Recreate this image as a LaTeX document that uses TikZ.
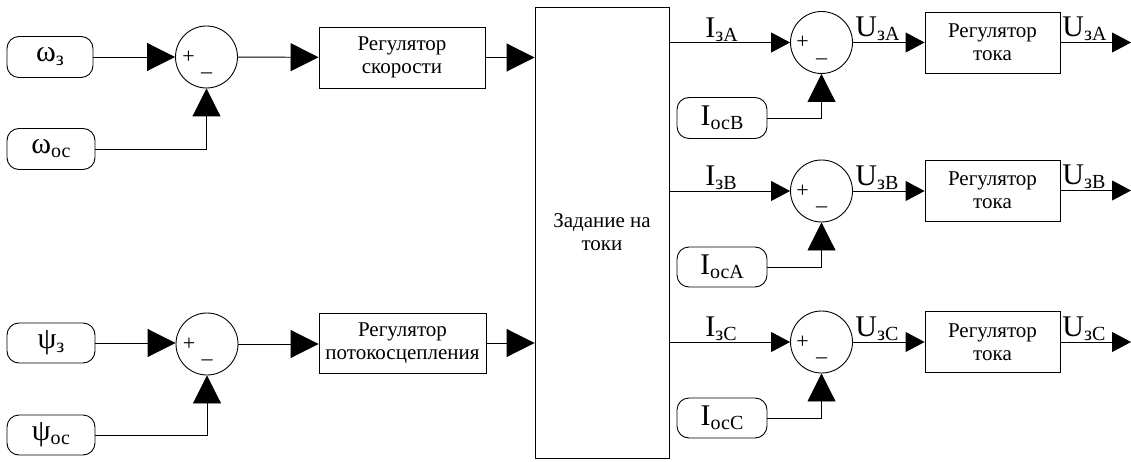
\documentclass[tikz,border=0pt]{standalone}
\usepackage{fontspec}
\setmainfont{Liberation Serif}
\usetikzlibrary{arrows.meta}
% lowered index text for signal names
\newcommand{\lowtxt}[1]{\raisebox{-4pt}{\fontsize{20}{20}\selectfont #1}}
\begin{document}
\begin{tikzpicture}[x=1pt,y=-1pt, line width=0.9pt,
  every node/.style={inner sep=0pt},
  sig/.style={draw, rounded corners=12pt, minimum width=88pt, minimum height=41pt,
              font=\fontsize{30}{32}\selectfont},
  sumnode/.style={draw, circle, minimum size=62pt},
  blk/.style={draw, align=center, minimum height=61pt, font=\fontsize{21}{23}\selectfont},
  lbl/.style={anchor=south west, inner sep=1pt, font=\fontsize{30}{32}\selectfont},
  pm/.style={font=\fontsize{22}{22}\selectfont},
  bigtip/.style={-{Triangle[length=28pt,width=28pt]}},
  smalltip/.style={-{Triangle[length=19pt,width=20pt]}},
]
\useasboundingbox (0,0) rectangle (1131,462);

% ---------- speed loop ----------
\node[sig, minimum width=86pt] (wz) at (50,57) {ω\lowtxt{з}};
\node[sig] (woc) at (51,149) {ω\lowtxt{ос}};
\node[sumnode] (s1) at (206.5,57) {};
\node[pm] at ([xshift=-18pt]s1.center) {+};
\node[pm] at ([yshift=-19pt]s1.center) {–};
\node[blk, minimum width=166pt] (regS) at (402,57.5) {Регулятор\\скорости};

% ---------- flux loop ----------
\node[sig, minimum height=40pt] (pz) at (51,343) {ψ\lowtxt{з}};
\node[sig, minimum height=40pt] (poc) at (51,435) {ψ\lowtxt{ос}};
\node[sumnode] (s2) at (207,344) {};
\node[pm] at ([xshift=-18pt]s2.center) {+};
\node[pm] at ([yshift=-19pt]s2.center) {–};
\node[blk, minimum width=167pt, minimum height=60pt] (regP) at (402.5,343) {Регулятор\\потокосцепления};

% ---------- current reference block ----------
\node[blk, minimum width=134pt, minimum height=451pt] (big) at (602,232.5) {Задание на\\токи};

% ---------- current loops ----------
\node[sumnode] (sA) at (821.5,42.5) {};
\node[sumnode] (sB) at (821.5,191) {};
\node[sumnode] (sC) at (821.5,342) {};
\foreach \s in {sA,sB,sC}{
  \node[pm] at ([xshift=-19pt]\s.center) {+};
  \node[pm] at ([yshift=-19pt]\s.center) {–};
}
\node[sig, minimum width=90pt] (iB) at (722,118) {I\lowtxt{осB}};
\node[sig, minimum width=90pt, minimum height=40pt] (iA) at (722,267) {I\lowtxt{осA}};
\node[sig, minimum width=90pt, minimum height=40pt] (iC) at (722,418) {I\lowtxt{осC}};
\node[blk, minimum width=135pt] (rA) at (992.5,42.5) {Регулятор\\тока};
\node[blk, minimum width=135pt] (rB) at (992.5,190.5) {Регулятор\\тока};
\node[blk, minimum width=135pt] (rC) at (992.5,342) {Регулятор\\тока};
\coordinate (oA) at (1131,42.5);
\coordinate (oB) at (1131,190.5);
\coordinate (oC) at (1131,342);

% ---------- connectors, left part ----------
\draw[bigtip] (wz) -- (s1);
\draw[bigtip] (woc.east) -| (s1.south);
\draw[bigtip] (s1) -- (regS);
\draw[bigtip] (regS.east) -- (regS.east -| big.west);
\draw[bigtip] (pz.east) -- (pz.east -| s2.west);
\draw[bigtip] (poc.east) -| (s2.south);
\draw[bigtip] (s2.east) -- (s2.east -| regP.west);
\draw[bigtip] (regP.east) -- (regP.east -| big.west);

% ---------- connectors, right part ----------
\draw[smalltip] (sA.west -| big.east) -- (sA.west)
  node[lbl] (lIA) at (704,43) {I\lowtxt{зA}};
\draw[smalltip] (sB.west -| big.east) -- (sB.west)
  node[lbl] (lIB) at (704,191) {I\lowtxt{зB}};
\draw[smalltip] (sC.west -| big.east) -- (sC.west)
  node[lbl] (lIC) at (704,342) {I\lowtxt{зC}};
\draw[bigtip] (iB.east) -| (sA.south);
\draw[bigtip] (iA.east) -| (sB.south);
\draw[bigtip] (iC.east) -| (sC.south);
\draw[smalltip] (sA.east) -- (sA.east -| rA.west)
  node[lbl] (lUA1) at (854,42.5) {U\lowtxt{зA}};
\draw[smalltip] (sB.east) -- (sB.east -| rB.west)
  node[lbl] (lUB1) at (854,191) {U\lowtxt{зB}};
\draw[smalltip] (sC.east) -- (sC.east -| rC.west)
  node[lbl] (lUC1) at (854,342) {U\lowtxt{зC}};
\draw[smalltip] (rA.east) -- (oA)
  node[lbl] (lUA2) at (1061,42.5) {U\lowtxt{зA}};
\draw[smalltip] (rB.east) -- (oB)
  node[lbl] (lUB2) at (1061,190.5) {U\lowtxt{зB}};
\draw[smalltip] (rC.east) -- (oC)
  node[lbl] (lUC2) at (1061,342) {U\lowtxt{зC}};
\end{tikzpicture}
\end{document}
